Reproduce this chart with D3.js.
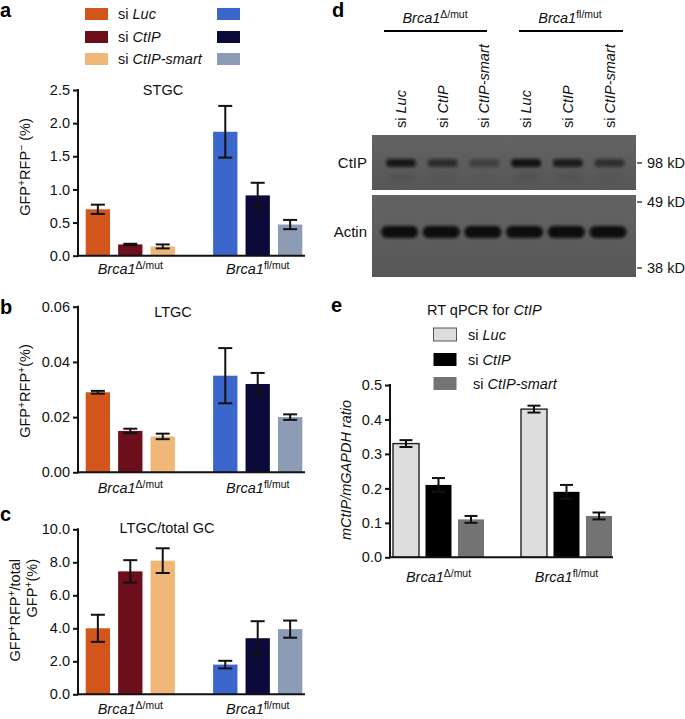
<!DOCTYPE html>
<html><head><meta charset="utf-8">
<script src="https://cdn.jsdelivr.net/npm/d3@7"></script>
<style>
body{margin:0;background:#fff;}
svg{font-family:"Liberation Sans",Arial,sans-serif;}
</style></head>
<body><svg id="c" width="685" height="719"></svg>
<script>
// ---------- DATA ----------
const groups = ["delta", "fl"];
const series = ["siLuc", "siCtIP", "siCtIPsmart"];
const seriesLabels = ["Luc", "CtIP", "CtIP-smart"];
const colorsDelta = ["#d2561b", "#6d0e1b", "#f0b878"];
const colorsFl = ["#3b67cd", "#0c0a3a", "#8c9cb5"];

// panel a STGC
const stgcDelta = [0.70, 0.17, 0.14];
const stgcDeltaErr = [0.07, 0.01, 0.03];
const stgcFl = [1.87, 0.91, 0.47];
const stgcFlErr = [0.39, 0.19, 0.07];
const stgcTicks = [0, 0.5, 1.0, 1.5, 2.0, 2.5];

// panel b LTGC
const ltgcDelta = [0.029, 0.015, 0.013];
const ltgcDeltaErr = [0.0005, 0.0008, 0.001];
const ltgcFl = [0.035, 0.032, 0.020];
const ltgcFlErr = [0.010, 0.004, 0.001];
const ltgcTicks = [0, 0.02, 0.04, 0.06];

// panel c LTGC/total GC
const ratioDelta = [4.0, 7.45, 8.1];
const ratioDeltaErr = [0.82, 0.68, 0.75];
const ratioFl = [1.8, 3.4, 3.95];
const ratioFlErr = [0.23, 1.03, 0.52];
const ratioTicks = [0, 2, 4, 6, 8, 10];

// panel e RT qPCR
const qpcrDelta = [0.33, 0.21, 0.11];
const qpcrDeltaErr = [0.01, 0.02, 0.01];
const qpcrFl = [0.43, 0.19, 0.12];
const qpcrFlErr = [0.01, 0.02, 0.01];
const qpcrTicks = [0, 0.1, 0.2, 0.3, 0.4, 0.5];
const qpcrColors = ["#dddddd", "#000000", "#737373"];

// panel d blot
const lanes = ["dLuc", "dCtIP", "dSmart", "fLuc", "fCtIP", "fSmart"];
const laneLabels = ["Luc", "CtIP", "CtIP-smart", "Luc", "CtIP", "CtIP-smart"];
const ctipBand = [0.85, 0.6, 0.35, 0.95, 0.8, 0.55];
const actinBand = [1, 1, 1, 1, 1, 1];
const markers = ["98 kD", "49 kD", "38 kD"];

// ---------- HELPERS ----------
const svg = d3.select("#c");
const defs = svg.append("defs");
defs.append("filter").attr("id", "blur").attr("x", "-20%").attr("y", "-60%").attr("width", "140%").attr("height", "220%")
  .append("feGaussianBlur").attr("stdDeviation", 1.6);
defs.append("filter").attr("id", "blur2").attr("x", "-20%").attr("y", "-60%").attr("width", "140%").attr("height", "220%")
  .append("feGaussianBlur").attr("stdDeviation", 3);

function rich(t, parts, size) {
  parts.forEach(p => {
    const ts = t.append("tspan").text(p.t);
    if (p.i) ts.attr("font-style", "italic");
    if (p.sup) ts.attr("font-size", size * 0.72).attr("baseline-shift", "super");
  });
  return t;
}
function brcaLabel(g, x, y, sup, size) {
  const t = g.append("text").attr("x", x).attr("y", y).attr("text-anchor", "middle").attr("font-size", size).attr("fill", "#111");
  rich(t, [{t: "Brca1", i: true}, {t: sup, sup: true}], size);
}

function barPanel(o) {
  const g = svg.append("g");
  const y = d3.scaleLinear().domain(o.domain).range([o.y0, o.y1]);
  const gx = d3.scaleBand().domain(groups).range([o.barsL, o.barsR]).paddingInner(o.gp);
  const sx = d3.scaleBand().domain(series).range([0, gx.bandwidth()]).paddingInner(o.sp);
  const data = [];
  groups.forEach((gr, gi) => series.forEach((s, si) => {
    data.push({gr, s, v: o.vals[gi][si], e: o.errs[gi][si], c: o.colors[gi][si]});
  }));
  const bx = d => gx(d.gr) + sx(d.s);
  g.selectAll("rect.bar").data(data).join("rect").attr("class", "bar")
    .attr("x", bx).attr("width", sx.bandwidth())
    .attr("y", d => y(d.v)).attr("height", d => o.y0 - y(d.v))
    .attr("fill", d => d.c)
    .attr("stroke", d => o.stroke ? o.stroke(d) : "none").attr("stroke-width", 1.4);
  const cap = o.cap;
  const eb = g.selectAll("g.eb").data(data).join("g").attr("class", "eb")
    .attr("stroke", "#111").attr("stroke-width", 2).attr("fill", "none");
  eb.append("line").attr("x1", d => bx(d) + sx.bandwidth() / 2).attr("x2", d => bx(d) + sx.bandwidth() / 2)
    .attr("y1", d => y(d.v + d.e)).attr("y2", d => y(d.v - d.e));
  eb.append("line").attr("x1", d => bx(d) + sx.bandwidth() / 2 - cap).attr("x2", d => bx(d) + sx.bandwidth() / 2 + cap)
    .attr("y1", d => y(d.v + d.e)).attr("y2", d => y(d.v + d.e));
  eb.append("line").attr("x1", d => bx(d) + sx.bandwidth() / 2 - cap).attr("x2", d => bx(d) + sx.bandwidth() / 2 + cap)
    .attr("y1", d => y(d.v - d.e)).attr("y2", d => y(d.v - d.e));
  // axes
  const ax = g.append("g").attr("transform", `translate(${o.ax},0)`)
    .call(d3.axisLeft(y).tickValues(o.ticks).tickFormat(d3.format(o.fmt)).tickSize(5).tickSizeOuter(0).tickPadding(3));
  ax.select(".domain").attr("stroke", "#111").attr("stroke-width", 2).attr("d", `M0,${o.y1 - 1}V${o.y0 + 1}`);
  ax.selectAll(".tick line").attr("stroke", "#111").attr("stroke-width", 2);
  ax.selectAll(".tick text").attr("font-size", 14.5).attr("fill", "#111").attr("font-family", "Liberation Sans, Arial, sans-serif");
  g.append("line").attr("x1", o.ax - 1).attr("x2", o.axR).attr("y1", o.y0).attr("y2", o.y0).attr("stroke", "#111").attr("stroke-width", 2);
  // group labels
  brcaLabel(g, gx("delta") + gx.bandwidth() / 2, o.glY, "\u0394/mut", 14.5);
  brcaLabel(g, gx("fl") + gx.bandwidth() / 2, o.glY, "fl/mut", 14.5);
  return g;
}

function panelLetter(t, x, y) {
  svg.append("text").attr("x", x).attr("y", y).attr("font-size", 20).attr("font-weight", "bold").attr("fill", "#000").text(t);
}
function title(t, x, y) {
  svg.append("text").attr("x", x).attr("y", y).attr("text-anchor", "middle").attr("font-size", 14.5).attr("fill", "#111").text(t);
}
function ylab(x, y, parts, anchor) {
  const t = svg.append("text").attr("transform", `translate(${x},${y}) rotate(-90)`).attr("text-anchor", anchor || "middle")
    .attr("font-size", 14.5).attr("fill", "#111");
  rich(t, parts, 14.5);
}

// ---------- PANEL a ----------
panelLetter("a", 0, 17);
const legY = [14, 37, 59];
series.forEach((s, i) => {
  svg.append("rect").attr("x", 85).attr("y", legY[i] - 6).attr("width", 23).attr("height", 12).attr("fill", colorsDelta[i]);
  svg.append("rect").attr("x", 217).attr("y", legY[i] - 6).attr("width", 23).attr("height", 12).attr("fill", colorsFl[i]);
  const t = svg.append("text").attr("x", 118).attr("y", legY[i] + 5).attr("font-size", 14.5).attr("fill", "#111");
  rich(t, [{t: "si "}, {t: seriesLabels[i], i: true}], 14.5);
});
barPanel({domain: [0, 2.5], y0: 255.7, y1: 90, ax: 78, axR: 305, barsL: 85.7, barsR: 302.3, gp: 0.3, sp: 0.25,
  vals: [stgcDelta, stgcFl], errs: [stgcDeltaErr, stgcFlErr], colors: [colorsDelta, colorsFl],
  ticks: stgcTicks, fmt: ".1f", cap: 7, glY: 274});
title("STGC", 163, 95);
ylab(30, 167, [{t: "GFP"}, {t: "+", sup: true}, {t: "RFP"}, {t: "\u2212", sup: true}, {t: " (%)"}]);

// ---------- PANEL b ----------
panelLetter("b", 0, 314);
barPanel({domain: [0, 0.06], y0: 472.3, y1: 306.7, ax: 78, axR: 305, barsL: 85.7, barsR: 302.3, gp: 0.3, sp: 0.25,
  vals: [ltgcDelta, ltgcFl], errs: [ltgcDeltaErr, ltgcFlErr], colors: [colorsDelta, colorsFl],
  ticks: ltgcTicks, fmt: ".2f", cap: 7, glY: 493});
title("LTGC", 173, 317);
ylab(30, 391, [{t: "GFP"}, {t: "+", sup: true}, {t: "RFP"}, {t: "+", sup: true}, {t: "(%)"}]);

// ---------- PANEL c ----------
panelLetter("c", 0, 521);
barPanel({domain: [0, 10], y0: 694.3, y1: 529.3, ax: 78, axR: 305, barsL: 85.7, barsR: 302.3, gp: 0.3, sp: 0.25,
  vals: [ratioDelta, ratioFl], errs: [ratioDeltaErr, ratioFlErr], colors: [colorsDelta, colorsFl],
  ticks: ratioTicks, fmt: ".1f", cap: 7, glY: 714});
title("LTGC/total GC", 167, 533);
ylab(20, 559, [{t: "GFP"}, {t: "+", sup: true}, {t: "RFP"}, {t: "+", sup: true}, {t: "/total"}], "end");
ylab(37, 559, [{t: "GFP"}, {t: "+", sup: true}, {t: "(%)"}], "end");

// ---------- PANEL d (blot) ----------
panelLetter("d", 332, 17);
const lx = d3.scalePoint().domain(lanes).range([399, 607.5]);
const hdr = svg.append("g");
brcaLabel(hdr, 435, 23, "\u0394/mut", 14.5);
brcaLabel(hdr, 570, 23, "fl/mut", 14.5);
hdr.append("line").attr("x1", 384).attr("x2", 487).attr("y1", 31).attr("y2", 31).attr("stroke", "#000").attr("stroke-width", 2.2);
hdr.append("line").attr("x1", 519).attr("x2", 623).attr("y1", 31).attr("y2", 31).attr("stroke", "#000").attr("stroke-width", 2.2);
lanes.forEach((l, i) => {
  const t = svg.append("text").attr("transform", `translate(${lx(l) + 7},128) rotate(-90)`).attr("font-size", 14.5).attr("fill", "#111");
  rich(t, [{t: "si "}, {t: laneLabels[i], i: true}], 14.5);
});
const bg = defs.append("linearGradient").attr("id", "blotg").attr("x1", 0).attr("x2", 0).attr("y1", 0).attr("y2", 1);
bg.append("stop").attr("offset", "0%").attr("stop-color", "#636363");
bg.append("stop").attr("offset", "100%").attr("stop-color", "#575757");
svg.append("rect").attr("x", 372).attr("y", 135).attr("width", 264).attr("height", 55).attr("fill", "url(#blotg)");
svg.append("rect").attr("x", 372).attr("y", 195).attr("width", 264).attr("height", 82).attr("fill", "url(#blotg)");
const blot = svg.append("g");
// faint smear below CtIP band
blot.selectAll("ellipse.sm").data(lanes).join("ellipse").attr("class", "sm")
  .attr("cx", d => lx(d) + 3).attr("cy", 177).attr("rx", 14).attr("ry", 5)
  .attr("fill", "#4a4a4a").attr("opacity", (d, i) => 0.5 * ctipBand[i]).attr("filter", "url(#blur2)");
blot.selectAll("rect.ct").data(lanes).join("rect").attr("class", "ct")
  .attr("x", d => lx(d) - 13).attr("y", 159).attr("width", 30).attr("height", 8).attr("rx", 4)
  .attr("fill", "#0c0c0c").attr("opacity", (d, i) => ctipBand[i]).attr("filter", "url(#blur)");
blot.selectAll("rect.ac").data(lanes).join("rect").attr("class", "ac")
  .attr("x", d => lx(d) - 18).attr("y", 226).attr("width", 37).attr("height", 12).attr("rx", 6)
  .attr("fill", "#0a0a0a").attr("opacity", (d, i) => actinBand[i]).attr("filter", "url(#blur)");
svg.append("text").attr("x", 367).attr("y", 168).attr("text-anchor", "end").attr("font-size", 15).attr("fill", "#111").text("CtIP");
svg.append("text").attr("x", 367).attr("y", 237).attr("text-anchor", "end").attr("font-size", 15).attr("fill", "#111").text("Actin");
const mY = [163, 202, 268];
markers.forEach((m, i) => {
  svg.append("line").attr("x1", 637).attr("x2", 642).attr("y1", mY[i]).attr("y2", mY[i]).attr("stroke", "#111").attr("stroke-width", 1.2);
  svg.append("text").attr("x", 647).attr("y", mY[i] + 5).attr("font-size", 14.5).attr("fill", "#111").text(m);
});

// ---------- PANEL e ----------
panelLetter("e", 331, 312);
{
  const t = svg.append("text").attr("x", 427).attr("y", 315).attr("font-size", 14.5).attr("fill", "#111");
  rich(t, [{t: "RT qPCR for "}, {t: "CtIP", i: true}], 14.5);
  const eY = [334.5, 359.5, 383.5];
  series.forEach((s, i) => {
    svg.append("rect").attr("x", 433.5).attr("y", eY[i] - 6.5).attr("width", 23).attr("height", 13)
      .attr("fill", qpcrColors[i]).attr("stroke", i === 0 ? "#555" : "none").attr("stroke-width", 1);
    const tt = svg.append("text").attr("x", i === 2 ? 473 : 468).attr("y", eY[i] + 5).attr("font-size", 14.5).attr("fill", "#111");
    rich(tt, [{t: "si "}, {t: seriesLabels[i], i: true}], 14.5);
  });
}
barPanel({domain: [0, 0.5], y0: 557.3, y1: 385, ax: 390, axR: 613, barsL: 393, barsR: 612, gp: 0.289, sp: 0.2,
  vals: [qpcrDelta, qpcrFl], errs: [qpcrDeltaErr, qpcrFlErr], colors: [qpcrColors, qpcrColors],
  ticks: qpcrTicks, fmt: ".1f", cap: 6.5, glY: 582, stroke: d => d.s === "siLuc" ? "#222" : "none"});
{
  const t = svg.append("text").attr("transform", "translate(351,470) rotate(-90)").attr("text-anchor", "middle")
    .attr("font-size", 14.5).attr("font-style", "italic").attr("fill", "#111").text("mCtIP/mGAPDH ratio");
}
</script></body></html>
